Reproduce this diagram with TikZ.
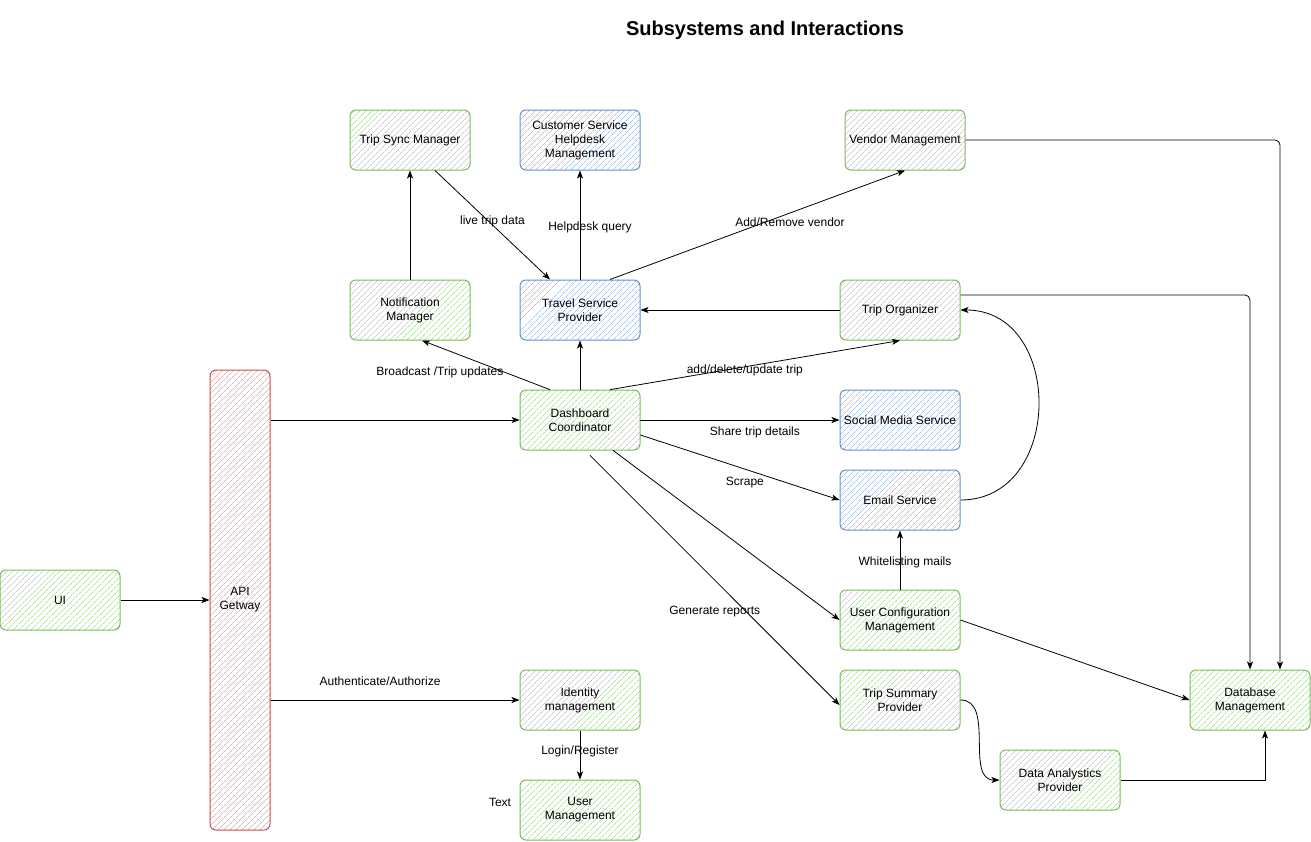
\documentclass[tikz,border=0pt]{standalone}
\usepackage{fontspec}
\setmainfont{Liberation Sans}
\usetikzlibrary{positioning, arrows.meta, patterns.meta}
\definecolor{gline}{HTML}{82B366}
\definecolor{ghatch}{HTML}{B5DAA9}
\definecolor{bline}{HTML}{6C8EBF}
\definecolor{bhatch}{HTML}{A9C3EA}
\definecolor{rline}{HTML}{B85450}
\definecolor{rhatch}{HTML}{EEAAA6}

\begin{document}
\begin{tikzpicture}[x=1pt, y=-1pt, on grid, >={Stealth[length=8pt, width=6pt, inset=2pt]},
    font=\fontsize{12}{14}\selectfont,
    sub/.style={rectangle, rounded corners=6pt, line width=1pt, minimum width=120pt,
        minimum height=60pt, align=center, inner sep=1pt},
    gbox/.style={sub, draw=gline, pattern={Lines[angle=45, distance=4pt, line width=0.7pt]}, pattern color=ghatch},
    bbox/.style={sub, draw=bline, pattern={Lines[angle=45, distance=4pt, line width=0.7pt]}, pattern color=bhatch},
    rbox/.style={sub, draw=rline, pattern={Lines[angle=45, distance=4pt, line width=0.7pt]}, pattern color=rhatch},
    flow/.style={->, line width=0.8pt}]

   \useasboundingbox (0,0) rectangle (1311,841);

   \node[font=\bfseries\fontsize{20}{24}\selectfont] (title) at (765,30) {Subsystems and Interactions};

   \node[gbox] (dash) at (580,420) {Dashboard\\Coordinator};
   \node[bbox] (tsp) [above=110pt of dash] {Travel Service\\Provider};
   \node[bbox] (csh) [above=170pt of tsp] {Customer Service\\Helpdesk\\Management};
   \node[gbox] (notif) [left=170pt of tsp] {Notification\\Manager};
   \node[gbox] (sync) [above=170pt of notif] {Trip Sync Manager};
   \node[gbox] (org) [right=320pt of tsp] {Trip Organizer};
   \node[gbox] (vendor) at (905,140) {Vendor Management};
   \node[bbox] (social) [right=320pt of dash] {Social Media Service};
   \node[bbox] (email) [below=80pt of social] {Email Service};
   \node[gbox] (ucm) [below=120pt of email] {User Configuration\\Management};
   \node[gbox] (tsum) [below=80pt of ucm] {Trip Summary\\Provider};
   \node[gbox] (dap) at (1060,780) {Data Analystics\\Provider};
   \node[gbox] (db) at (1250,700) {Database\\Management};
   \node[gbox] (idm) at (580,700) {Identity\\management};
   \node[gbox] (um) [below=110pt of idm] {User\\Management};
   \node[rbox, minimum width=60pt, minimum height=460pt] (api) at (240,600) {API\\Getway};
   \node[gbox] (ui) at (60,600) {UI};
   \node (txt) at (500,802) {Text};

    \path[flow]
    (ui) edge (api)
    (api.east |- dash) edge (dash)
    (api.east |- idm) edge node[pos=0.44, yshift=19pt] {Authenticate/Authorize} (idm)
    (idm) edge node[midway, yshift=4pt] {Login/Register} (um)
    (notif) edge (sync)
    ([xshift=25pt]sync.south) edge node[midway, yshift=4pt] {live trip data} ([xshift=-30pt]tsp.north)
    (tsp) edge node[midway, xshift=10pt, yshift=-2pt] {Helpdesk query} (csh)
    ([xshift=30pt]tsp.north) edge node[pos=0.61, yshift=-9pt] {Add/Remove vendor} (vendor.south)
    (org) edge (tsp)
    ([xshift=-30pt]dash.north) edge node[pos=0.86, yshift=-25pt] {Broadcast /Trip updates} ([xshift=12pt]notif.south)
    (dash) edge (tsp)
    ([xshift=30pt]dash.north) edge node[pos=0.465, yshift=-4pt] {add/delete/update trip} (org.south)
    (dash) edge node[pos=0.575, yshift=-12pt] {Share trip details} (social)
    ([yshift=-15pt]dash.east) edge node[pos=0.525, yshift=-13pt] {Scrape} (email.west)
    ([xshift=33pt]dash.south) edge (ucm.west)
    ([xshift=10pt, yshift=-5pt]dash.south) edge node[midway, yshift=-31pt] {Generate reports} ([yshift=-5pt]tsum.west)
    (ucm) edge node[midway, xshift=5pt, yshift=-2pt] {Whitelisting mails} (email)
    (email) edge[out=0, in=0, looseness=1.4] (org)
    (ucm.east) edge (db.west)
    (tsum) edge[out=0, in=180] (dap);

    \draw[flow, rounded corners=5pt] (vendor.east) -| ([xshift=30pt]db.north);
    \draw[flow, rounded corners=5pt] ([yshift=15pt]org.east) -| (db.north);
    \draw[flow] (dap.east) -| ([xshift=15pt]db.south);
\end{tikzpicture}
\end{document}
